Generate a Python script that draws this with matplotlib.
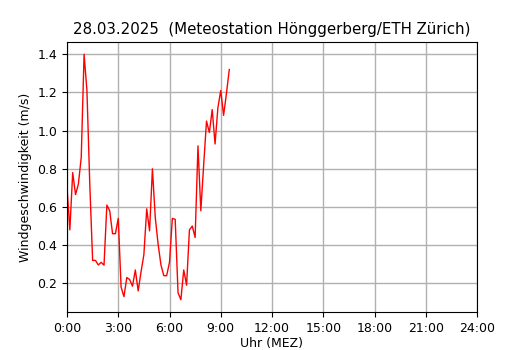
import matplotlib
matplotlib.use("Agg")
import matplotlib.pyplot as plt

times = ["00:00","00:10","00:20","00:30","00:40","00:50",
         "01:00","01:10","01:20","01:30","01:40","01:50",
         "02:00","02:10","02:20","02:30","02:40","02:50",
         "03:00","03:10","03:20","03:30","03:40","03:50",
         "04:00","04:10","04:20","04:30","04:40","04:50",
         "05:00","05:10","05:20","05:30","05:40","05:50",
         "06:00","06:10","06:20","06:30","06:40","06:50",
         "07:00","07:10","07:20","07:30","07:40","07:50",
         "08:00","08:10","08:20","08:30","08:40","08:50",
         "09:00","09:10","09:20","09:30"]
wind = [0.70,0.48,0.78,0.665,0.72,0.86,
        1.40,1.21,0.72,0.32,0.32,0.296,
        0.31,0.295,0.61,0.58,0.46,0.46,
        0.54,0.18,0.13,0.23,0.22,0.185,
        0.27,0.16,0.26,0.35,0.59,0.475,
        0.80,0.545,0.405,0.296,0.24,0.24,
        0.31,0.54,0.535,0.15,0.114,0.27,
        0.19,0.48,0.50,0.44,0.92,0.58,
        0.82,1.05,0.99,1.11,0.93,1.12,
        1.21,1.08,1.195,1.32]
tick_hours = [0, 3, 6, 9, 12, 15, 18, 21, 24]
tick_labels = ["0:00", "3:00", "6:00", "9:00", "12:00", "15:00", "18:00", "21:00", "24:00"]

hours = [int(t[:2]) + int(t[3:]) / 60 for t in times]

fig = plt.figure(figsize=(5.3, 3.5), dpi=100)
ax = fig.add_axes([67/530, 1-312/350, (477-67)/530, (312-42)/350])
ax.plot(hours, wind, color="red", linewidth=1)
ax.set_xlim(0, 24)
ax.set_xticks(tick_hours)
ax.set_xticklabels(tick_labels)
ax.grid(True, color="#b0b0b0", linewidth=1)
ax.set_axisbelow(True)
ax.tick_params(labelsize=9)
ax.set_xlabel("Uhr (MEZ)", fontsize=9, labelpad=2)
ax.set_ylabel("Windgeschwindigkeit (m/s)", fontsize=9)
ax.set_title("28.03.2025  (Meteostation Hönggerberg/ETH Zürich)", fontsize=10.8)
fig.savefig("out.png", dpi=100)
